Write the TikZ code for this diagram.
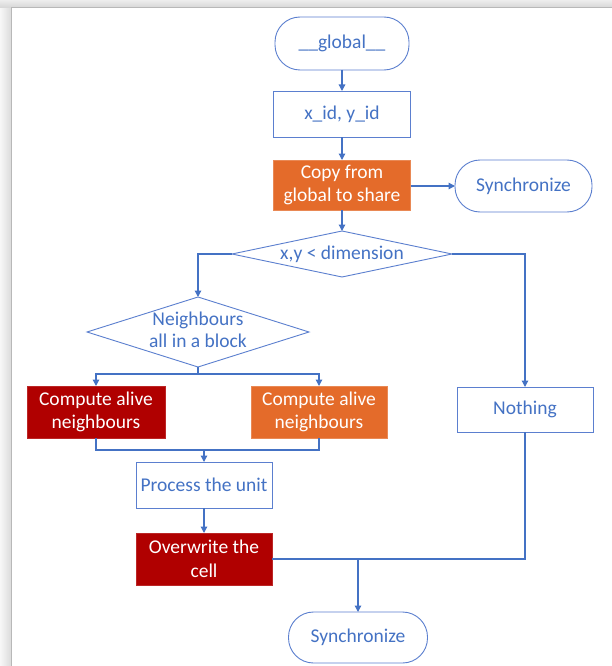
\documentclass[tikz,border=0pt]{standalone}
\usepackage{fontspec}
\setmainfont{Carlito}
\usetikzlibrary{shapes.geometric,arrows.meta}
\definecolor{mblue}{HTML}{4472C4}
\definecolor{mline}{HTML}{5B7FCF}
\definecolor{morange}{HTML}{E46B2A}
\definecolor{mred}{HTML}{B00000}
\tikzset{
  every node/.style={font=\fontsize{19.5}{23.5}\selectfont, text=mblue, align=center, inner sep=0pt, outer sep=0pt},
  plainbox/.style={draw=mline, line width=0.9pt, fill=white, rectangle},
  orangebox/.style={draw=morange!80!white, line width=0.9pt, fill=morange, text=white, rectangle},
  redbox/.style={draw=mred!85!white, line width=0.9pt, fill=mred, text=white, rectangle},
  term/.style={draw=mline, line width=0.9pt, fill=white, rectangle, rounded corners=25pt},
  decide/.style={draw=mline, line width=0.9pt, fill=white, diamond},
  conn/.style={draw=mblue, line width=1.3pt},
  arr/.style={conn, -{Triangle[width=6.5pt,length=6.5pt]}}
}
\begin{document}
\begin{tikzpicture}[x=1pt,y=-1pt]
\useasboundingbox (0,0) rectangle (612,666);
% window frame
\fill[white] (0,0) rectangle (612,666);
\shade[left color=white!97!black, right color=white!86!black] (0,0) rectangle (11,666);
\shade[top color=white!93!black, bottom color=white!84!black] (0,0) rectangle (612,7.5);
\draw[color=white!72!black, line width=1pt] (11.5,666) -- (11.5,7.5) -- (612,7.5);

% nodes
\node[term, minimum width=134pt, minimum height=53pt] (glob) at (342,43.5) {\_\_global\_\_};
\node[plainbox, minimum width=137pt, minimum height=46pt] (xid) at (342,114) {x\_id, y\_id};
\node[orangebox, minimum width=137pt, minimum height=50pt] (copy) at (342,185) {Copy from\\global to share};
\node[term, minimum width=137pt, minimum height=52pt] (sync1) at (523.5,186) {Synchronize};
\node[decide, minimum width=220pt, minimum height=46pt] (dim) at (342,254) {\makebox[0pt]{x,y < dimension}};
\node[decide, minimum width=222pt, minimum height=70pt] (nb) at (198,332) {\makebox[0pt]{\begin{tabular}{@{}c@{}}Neighbours\\[-1pt]all in a block\end{tabular}}};
\node[redbox, minimum width=138pt, minimum height=52pt] (cr) at (96,412) {Compute alive\\neighbours};
\node[orangebox, minimum width=136pt, minimum height=52pt] (co) at (319,412) {Compute alive\\neighbours};
\node[plainbox, minimum width=136pt, minimum height=45pt] (noth) at (525,409.5) {Nothing};
\node[plainbox, minimum width=136pt, minimum height=46pt] (proc) at (204,485) {Process the unit};
\node[redbox, minimum width=136pt, minimum height=52pt] (ow) at (204,559) {Overwrite the\\cell};
\node[term, minimum width=139pt, minimum height=51pt] (sync2) at (358,637.5) {Synchronize};

% helper coordinates
\coordinate (split) at (198,374);
\coordinate (merge) at (204,450);
\coordinate (join) at (358,559);

% connectors
\draw[arr] (glob) -- (xid);
\draw[arr] (xid) -- (copy);
\draw[arr] (copy.east |- sync1.west) -- (sync1.west);
\draw[arr] (copy) -- (dim.north);
\draw[arr] (dim.west) -| (nb.north);
\draw[arr] (dim.east) -| (noth.north);
\draw[conn] (nb.south) -- (split);
\draw[arr] (split) -| (cr.north);
\draw[arr] (split) -| (co.north);
\draw[conn] (cr.south) |- (co.south |- merge) -- (co.south);
\draw[arr] (merge) -- (proc.north);
\draw[arr] (proc) -- (ow);
\draw[conn] (ow.east) -- (join);
\draw[conn] (noth.south) |- (join);
\draw[arr] (join) -- (sync2.north);
\end{tikzpicture}
\end{document}
